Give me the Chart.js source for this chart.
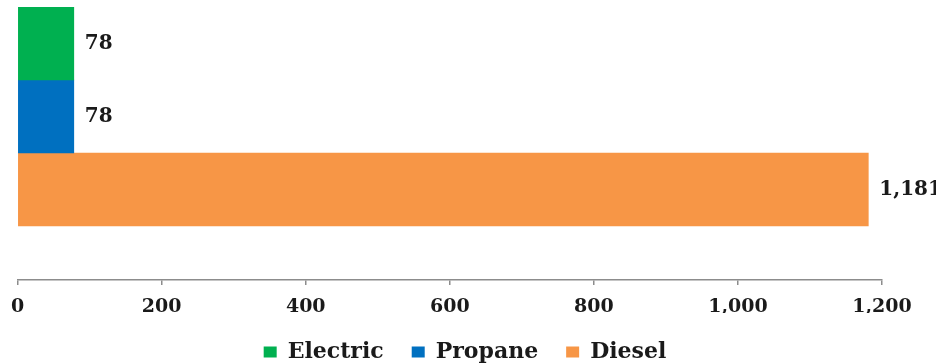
<!DOCTYPE html>
<html>
<head>
<meta charset="utf-8">
<script src="https://cdn.jsdelivr.net/npm/chart.js@4/dist/chart.umd.min.js"></script>
<style>
  html, body { margin: 0; padding: 0; background: #fff; }
  #wrap { width: 936px; height: 364px; position: relative; }
</style>
</head>
<body>
<div id="wrap"><canvas id="c"></canvas></div>
<script>
const categories = ['Electric', 'Propane', 'Diesel'];
const values = [78, 78, 1181];
const colors = ['#00B050', '#0070C0', '#F79646'];
const xTicks = [0, 200, 400, 600, 800, 1000, 1200];

const FONT = 'DejaVu Serif';

const datasets = categories.map((name, i) => ({
  label: name,
  data: categories.map((_, j) => (j === i ? values[i] : null)),
  backgroundColor: colors[i],
  borderWidth: 0,
  categoryPercentage: 1,
  barPercentage: 1
}));

const valueLabels = {
  id: 'valueLabels',
  afterDatasetsDraw(chart) {
    const ctx = chart.ctx;
    ctx.save();
    ctx.font = 'bold 20px "' + FONT + '"';
    ctx.fillStyle = '#1a1a1a';
    ctx.textBaseline = 'middle';
    ctx.textAlign = 'left';
    chart.data.datasets.forEach((ds, i) => {
      const meta = chart.getDatasetMeta(i);
      meta.data.forEach((el, j) => {
        const v = ds.data[j];
        if (v === null || v === undefined) return;
        ctx.fillText(v.toLocaleString('en-US'), el.x + 11, el.y);
      });
    });
    ctx.restore();
  }
};

// keep the legend compact vertically while allowing wide horizontal spacing
const legendHeight = {
  id: 'legendHeight',
  beforeLayout(chart) {
    const lg = chart.legend;
    if (lg && !lg.__patched) {
      lg.__patched = true;
      const origFit = lg.fit;
      lg.fit = function () { origFit.call(this); this.height = 51; };
    }
  }
};

new Chart(document.getElementById('c'), {
  type: 'bar',
  data: { labels: categories, datasets },
  options: {
    indexAxis: 'y',
    responsive: true,
    maintainAspectRatio: false,
    animation: false,
    skipNull: true,
    layout: { padding: { top: 7, left: 14, right: 20, bottom: 0 } },
    scales: {
      x: {
        min: xTicks[0],
        max: xTicks[xTicks.length - 1],
        afterBuildTicks(scale) { scale.ticks = xTicks.map(v => ({ value: v })); },
        afterFit(scale) { scale.height = 33; },
        grid: { drawOnChartArea: false, drawTicks: true, tickLength: 5, color: '#8c8c8c', lineWidth: 1.5 },
        border: { display: true, color: '#8c8c8c', width: 1.5 },
        ticks: {
          color: '#1a1a1a',
          font: { family: FONT, weight: 'bold', size: 19 },
          padding: 11,
          maxRotation: 0,
          callback: v => v.toLocaleString('en-US')
        }
      },
      y: {
        display: true,
        position: 'right',
        offset: true,
        grid: { display: false },
        border: { display: false },
        ticks: { display: false },
        afterFit(scale) { scale.width = 34; },
        // leave empty space below the last bar, like the original
        afterBuildTicks(scale) { scale._valueRange = categories.length + 0.74; }
      }
    },
    plugins: {
      legend: {
        position: 'bottom',
        labels: {
          color: '#1a1a1a',
          font: { family: FONT, weight: 'bold', size: 22 },
          boxWidth: 13,
          boxHeight: 11,
          padding: 28
        }
      },
      tooltip: { enabled: false }
    }
  },
  plugins: [valueLabels, legendHeight]
});
</script>
</body>
</html>
